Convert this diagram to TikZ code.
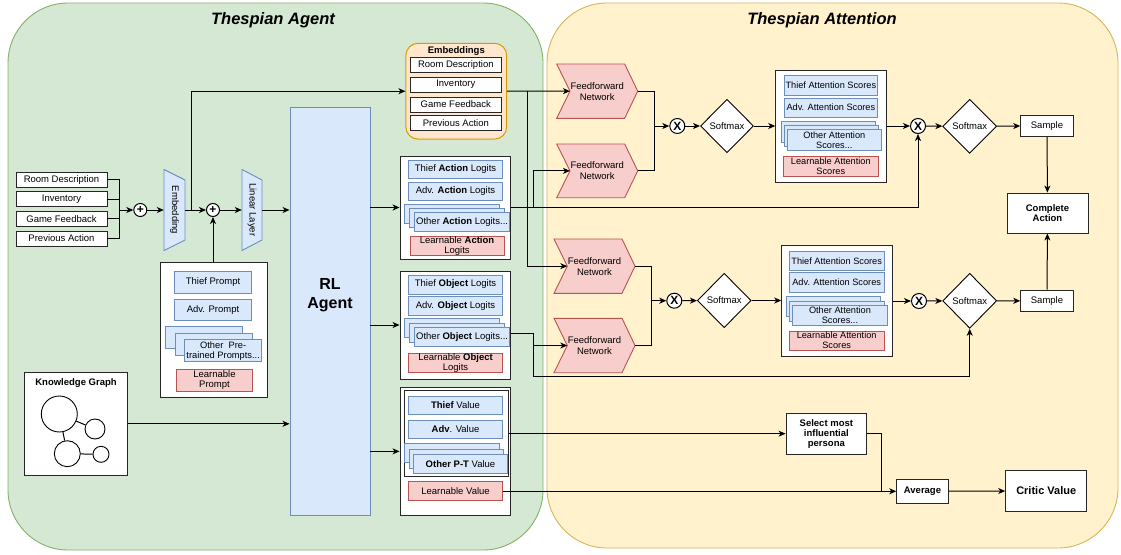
\documentclass[tikz,border=0pt]{standalone}
\usepackage{fontspec}
\setmainfont{Liberation Sans}
\usetikzlibrary{shapes.geometric,arrows.meta,calc}
\definecolor{gfill}{HTML}{D5E8D4}\definecolor{gstroke}{HTML}{82B366}
\definecolor{yfill}{HTML}{FFF2CC}\definecolor{ystroke}{HTML}{D6B656}
\definecolor{bfill}{HTML}{DAE8FC}\definecolor{bstroke}{HTML}{6C8EBF}
\definecolor{pfill}{HTML}{F8CECC}\definecolor{pstroke}{HTML}{B85450}
\definecolor{ofill}{HTML}{FFE6CC}\definecolor{ostroke}{HTML}{D79B00}
\newcommand\fsz{\fontsize{9.5}{11}\selectfont}
\newcommand\fsy{\fontsize{9.2}{11}\selectfont}
\newcommand\bx[6]{\node[#1, minimum width=#4pt, minimum height=#5pt] (#2) at (#3) {#6};}
\newcommand\stk[8]{%
 \node[bbox,anchor=north west,minimum width=#6pt,minimum height=#7pt] (#1a) at (#2,#3) {};
 \node[bbox,anchor=north west,minimum width=#6pt,minimum height=#7pt] (#1b) at (#2+#4,#3+#5) {};
 \node[bbox,anchor=north west,minimum width=#6pt,minimum height=#7pt] (#1) at (#2+2*#4,#3+2*#5) {#8};}
\newcommand\ffn[4]{%
 \draw[pshape] (#2,#3) -- (#2+68,#3) -- (#2+81,#3+#4/2) -- (#2+68,#3+#4) -- (#2,#3+#4) -- (#2+13.3,#3+#4/2) -- cycle;
 \coordinate (#1in) at (#2+13.3,#3+#4/2);
 \coordinate (#1out) at (#2+81,#3+#4/2);
 \node[font=\fsz,align=center] (#1) at (#2+40.5,#3+#4/2) {Feedforward\\Network};}
\begin{document}
\begin{tikzpicture}[x=1pt,y=-1pt,
  ln/.style={line width=1pt, draw=black},
  arr/.style={ln, -{Stealth[length=7pt,width=6pt,inset=2pt]}},
  wbox/.style={draw=black!85, fill=white, line width=0.9pt, inner sep=0pt, font=\fsz, align=center},
  bbox/.style={draw=bstroke, fill=bfill, line width=0.9pt, inner sep=0pt, font=\fsz, align=center},
  pbox/.style={draw=pstroke, fill=pfill, line width=0.9pt, inner sep=0pt, font=\fsz, align=center},
  bshape/.style={draw=bstroke, fill=bfill, line width=0.9pt},
  pshape/.style={draw=pstroke, fill=pfill, line width=0.9pt},
  op/.style={circle, draw=black, fill=white, line width=1pt, inner sep=0pt, font=\bfseries\fontsize{12}{12}\selectfont},
  smx/.style={diamond, draw=black, fill=white, line width=0.9pt, inner sep=0pt, font=\fsz},
  gnode/.style={circle, draw=black, line width=0.9pt, inner sep=0pt},
  ttl/.style={font=\bfseries\itshape\fontsize{16.5}{18}\selectfont}]
\useasboundingbox (0,0) rectangle (1121,554);
% panels
\draw[draw=gstroke, fill=gfill, line width=0.9pt, rounded corners=60pt] (8,3) rectangle (543,550);
\draw[draw=ystroke, fill=yfill, line width=0.9pt, rounded corners=60pt] (547,3) rectangle (1118,548);
\node[ttl] (t1) at (273,20) {Thespian Agent};
\node[ttl] (t2) at (822,20) {Thespian Attention};

% left inputs
\bx{wbox}{in1}{61.5,179.7}{91}{15}{Room Description}
\bx{wbox}{in2}{61.5,199.3}{91}{15}{Inventory}
\bx{wbox}{in3}{61.5,218.9}{91}{15}{Game Feedback}
\bx{wbox}{in4}{61.5,238.5}{91}{15}{Previous Action}
\coordinate (bus) at (119,210);
\node[op, minimum size=13pt] (p1) at (140.3,210) {+};
\node[op, minimum size=13pt] (p2) at (213,210) {+};
% trapezoids
\draw[bshape] (164,169.5) -- (185,180) -- (185,240) -- (164,250.5) -- cycle;
\node[minimum width=21pt, minimum height=81pt, inner sep=0pt] (emb) at (174.5,210) {};
\node[rotate=-90, font=\fsz] (embT) at (emb.center) {Embedding};
\draw[bshape] (242,169.5) -- (262,180) -- (262,240) -- (242,250.5) -- cycle;
\node[minimum width=20pt, minimum height=81pt, inner sep=0pt] (lin) at (252,210) {};
\node[rotate=-90, font=\fsz] (linT) at (lin.center) {Linear Layer};

% prompts
\bx{wbox}{prompts}{213.5,329.5}{107}{135}{}
\bx{bbox}{pThief}{213,282.5}{77.4}{21.6}{Thief Prompt}
\bx{bbox}{pAdv}{213,310}{77.4}{21.6}{Adv. Prompt}
\stk{pOther}{165}{326}{9.6}{6.6}{77}{22}{\fontsize{9.3}{10.5}\selectfont Other\ \ Pre-\\[-1pt]\fontsize{9.3}{10.5}\selectfont trained Prompts...}
\bx{pbox}{pLearn}{214.5,380}{76.4}{22}{Learnable\\[-1pt]Prompt}

% knowledge graph
\bx{wbox}{kg}{76,423.8}{103.4}{103}{}
\node[font=\bfseries\fsz] (kgT) at (76,382.7) {Knowledge Graph};
\node[gnode, minimum size=36pt] (g1) at (59.3,414) {};
\node[gnode, minimum size=20pt] (g2) at (95,429) {};
\node[gnode, minimum size=26pt] (g3) at (67.3,453.7) {};
\node[gnode, minimum size=16pt] (g4) at (101,454.3) {};
\draw[ln] (g1) -- (g2);
\draw[ln] (g1) -- (g3);
\draw[ln] (g3) -- (g4);

% RL agent
\node[bbox, minimum width=80pt, minimum height=408pt] (rl) at (330,311) {};
\node[font=\bfseries\fontsize{16}{19}\selectfont, align=center] (rlT) at (330,295) {RL\\Agent};

% embeddings container
\node[draw=ostroke, fill=ofill, rounded corners=12pt, line width=1pt, minimum width=100.7pt, minimum height=95.7pt] (embs) at (456.3,91.2) {};
\node[font=\bfseries\fsz] (embsT) at (456.3,51) {Embeddings};
\bx{wbox}{e1}{455.85,65.2}{90.3}{15}{Room Description}
\bx{wbox}{e2}{455.85,84.5}{90.3}{15}{Inventory}
\bx{wbox}{e3}{455.85,104.5}{90.3}{15}{Game Feedback}
\bx{wbox}{e4}{455.85,123.4}{90.3}{15}{Previous Action}

% action logits
\bx{wbox}{actbox}{455.35,207.5}{110.7}{103}{}
\bx{bbox}{aThief}{455.5,169.15}{94.4}{18.3}{Thief \textbf{Action} Logits}
\bx{bbox}{aAdv}{455.5,191.5}{94.4}{18.4}{Adv. \textbf{Action} Logits}
\stk{aOther}{404.3}{204}{5}{4.1}{94.7}{19}{Other \textbf{Action} Logits...}
\bx{pbox}{aLearn}{457,245.65}{94}{19.3}{Learnable \textbf{Action}\\[-1pt]Logits}

% object logits
\bx{wbox}{objbox}{455.35,325}{110.7}{108}{}
\bx{bbox}{oThief}{455.5,284.5}{94.4}{19}{Thief \textbf{Object} Logits}
\bx{bbox}{oAdv}{455.5,305.85}{94.4}{18.3}{Adv. \textbf{Object} Logits}
\stk{oOther}{404.3}{318.3}{5}{4.5}{94.7}{19}{Other \textbf{Object} Logits...}
\bx{pbox}{oLearn}{455.5,363}{94.4}{19.4}{Learnable \textbf{Object}\\[-1pt]Logits}

% values
\bx{wbox}{valbox}{455.35,451.35}{110.7}{127.3}{}
\bx{wbox}{vframe}{456.3,433.7}{104}{86}{}
\bx{bbox}{vThief}{455.5,405.15}{94.4}{18.3}{\textbf{Thief} Value}
\bx{bbox}{vAdv}{455.5,429.15}{94.4}{18.3}{\textbf{Adv}. Value}
\stk{vOther}{404.3}{443.3}{4.2}{5.5}{94.6}{19}{\textbf{Other P-T} Value}
\bx{pbox}{vLearn}{455.5,491.2}{94.4}{19}{Learnable Value}

% FFNs
\ffn{ffnA}{556.7}{64}{54.3}
\ffn{ffnB}{556.7}{144}{53.7}
\ffn{ffnC}{554}{239}{54.3}
\ffn{ffnD}{554}{318.3}{54.4}

% upper chain
\node[op, minimum size=15pt] (m1) at (677.3,126) {X};
\node[smx, minimum width=53pt, minimum height=53.5pt] (sm1) at (727,126) {Softmax};
\bx{wbox}{att1}{831.2,126.5}{111}{111.6}{}
\bx{bbox}{at1Thief}{830.85,85.35}{93.7}{19.3}{\fsy Thief Attention Scores}
\bx{bbox}{at1Adv}{830.85,107.5}{93.7}{19}{\fsy Adv. Attention Scores}
\stk{at1Other}{780.7}{121}{3}{4}{94.3}{21}{\fsy Other Attention\\[-1pt]\fsy Scores...}
\bx{pbox}{at1Learn}{830.8,166.7}{95}{20}{\fsy Learnable Attention\\[-1pt]\fsy Scores}
\node[op, minimum size=15pt] (m2) at (918,126) {X};
\node[smx, minimum width=54pt, minimum height=54pt] (sm2) at (969.7,126.3) {Softmax};
\bx{wbox}{s1}{1047,125.85}{52.6}{21.7}{Sample}
\bx{wbox}{comp}{1047.5,213}{81}{40}{\bfseries Complete\\[-1pt]\bfseries Action}

% lower chain
\node[op, minimum size=15pt] (m3) at (674.3,300.7) {X};
\node[smx, minimum width=53.7pt, minimum height=54.4pt] (sm3) at (724.2,300.5) {Softmax};
\bx{wbox}{att2}{837,300.85}{110.6}{110.3}{}
\bx{bbox}{at2Thief}{836.65,260.85}{94.7}{19.7}{\fsy Thief Attention Scores}
\bx{bbox}{at2Adv}{836.65,282.7}{94.7}{20}{\fsy Adv. Attention Scores}
\stk{at2Other}{786}{296}{3.15}{4.5}{94.4}{20}{\fsy Other Attention\\[-1pt]\fsy Scores...}
\bx{pbox}{at2Learn}{836.65,340.5}{94.7}{19}{\fsy Learnable Attention\\[-1pt]\fsy Scores}
\node[op, minimum size=15pt] (m4) at (919,301) {X};
\node[smx, minimum width=54pt, minimum height=55pt] (sm4) at (969.7,300.8) {Softmax};
\bx{wbox}{s2}{1047,300.85}{52.6}{21.7}{Sample}

% critic side
\bx{wbox}{sel}{826.35,433.65}{80.7}{40.7}{\bfseries Select most\\[-1pt]\bfseries influential\\[-1pt]\bfseries persona}
\bx{wbox}{avg}{922.5,491.3}{51.6}{24}{\bfseries Average}
\bx{wbox}{crit}{1046.2,490.85}{81}{40.3}{\bfseries\fontsize{11}{13}\selectfont Critic Value}

% ---------- connectors ----------
\draw[ln] (in1.east) -| (bus);
\draw[ln] (in2.east) -| (bus);
\draw[ln] (in3.east) -| (bus);
\draw[ln] (in4.east) -| (bus);
\draw[arr] (bus) -- (p1);
\draw[arr] (p1) -- (emb.west);
\draw[arr] (emb.east) -- (p2);
\coordinate (br1) at (191,210);
\draw[arr] (br1) |- (embs.west);
\draw[arr] (prompts.north -| p2) -- (p2);
\draw[arr] (p2) -- (lin.west);
\draw[arr] (lin.east) -- (lin.east -| rl.west);
\draw[arr] (kg.east) -- (kg.east -| rl.west);
\draw[arr] (rl.east |- actbox.west) -- (actbox.west);
\draw[arr] (rl.east |- objbox.west) -- (objbox.west);
\draw[arr] (rl.east |- valbox.west) -- (valbox.west);

% to FFNs
\draw[arr] (embs.east) -- (ffnAin);
\coordinate (bE) at (527,91.2);
\draw[arr] (bE) |- (ffnCin);
\draw[arr] (actbox.east) -| (m2);
\coordinate (bA) at (533.3,207.5);
\draw[arr] (bA) |- (ffnBin);
\coordinate (oOut) at (510.7,333.3);
\coordinate (oBend) at (533.3,376.7);
\draw[arr] (oOut) -| (oBend) -| (sm4);
\coordinate (bO) at (533.3,345.5);
\draw[arr] (bO) |- (ffnDin);

% upper chain connectors
\coordinate (jA) at (654.3,126);
\draw[ln] (ffnAout) -| (jA);
\draw[ln] (ffnBout) -| (jA);
\draw[arr] (jA) -- (m1);
\draw[arr] (m1) -- (sm1);
\draw[arr] (sm1) -- (sm1 -| att1.west);
\draw[arr] (att1.east |- m2) -- (m2);
\draw[arr] (m2) -- (sm2);
\draw[arr] (sm2) -- (s1);
\draw[arr] (s1) -- (comp);

% lower chain connectors
\coordinate (jC) at (651,300.7);
\draw[ln] (ffnCout) -| (jC);
\draw[ln] (ffnDout) -| (jC);
\draw[arr] (jC) -- (m3);
\draw[arr] (m3) -- (sm3);
\draw[arr] (sm3) -- (sm3 -| att2.west);
\draw[arr] (att2.east |- m4) -- (m4);
\draw[arr] (m4) -- (sm4);
\draw[arr] (sm4) -- (s2);
\draw[arr] (s2) -- (comp);

% critic connectors
\draw[arr] (vframe.east |- sel.west) -- (sel.west);
\coordinate (jS) at (881.7,491.3);
\draw[ln] (sel.east) -| (jS);
\draw[arr] (vLearn.east |- avg.west) -- (avg.west);
\draw[arr] (avg) -- (crit);
\end{tikzpicture}
\end{document}
